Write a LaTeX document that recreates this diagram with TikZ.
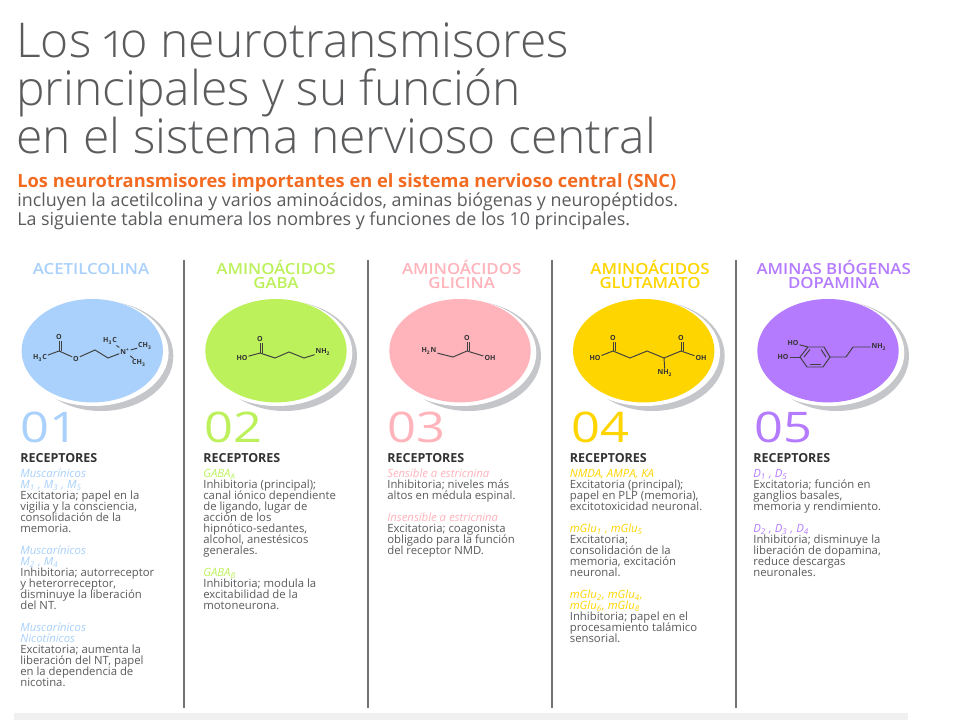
\documentclass[tikz,border=0pt]{standalone}
\usepackage{fontspec}
\setmainfont{Open Sans}
\newfontfamily\lightfont[Numbers=OldStyle]{Open Sans Light}
\newfontfamily\semifont{Open Sans Semibold}
\usepackage{tikz}

\definecolor{acecol}{HTML}{A9D1FB}
\definecolor{gabacol}{HTML}{BDF15B}
\definecolor{glicol}{HTML}{FFB3BB}
\definecolor{glucol}{HTML}{FFD500}
\definecolor{dopacol}{HTML}{B57BFF}
\definecolor{textcol}{HTML}{5A5B5D}
\definecolor{shadecol}{HTML}{C4C6C9}
\definecolor{titlecol}{HTML}{F26B21}

\newcommand{\sbs}[1]{\textsubscript{#1}}

\begin{document}
\begin{tikzpicture}[x=0.02cm,y=-0.02cm,
    heading/.style ={font=\fontsize{8.7}{7.94}\selectfont\semifont\lineskiplimit-20pt, align=center, inner sep=0pt, anchor=base, xscale=1.1},
    bigno/.style ={font=\fontsize{24}{24}\selectfont, inner sep=0pt, anchor=base west, xscale=1.2},
    rec/.style ={font=\fontsize{7.1}{6.24}\selectfont\bfseries, text=black!80, inner sep=0pt, anchor=base west},
    body/.style ={font=\fontsize{6.45}{6.24}\selectfont\lineskiplimit-20pt, text=textcol, align=left, inner sep=0pt, anchor=base west},
    atom/.style ={font=\fontsize{4}{4}\selectfont\bfseries, text=black!80, inner sep=0.4pt},
    bond/.style ={draw=black!75, line width=0.55pt},
    sep/.style ={draw=black!55, line width=1.2pt}]
  \useasboundingbox (0,0) rectangle (960,720);
  \fill[white] (0,0) rectangle (960,720);
  \fill[black!6] (14,713) rectangle (908,720);

  \node[anchor=base west, inner sep=0pt, text=textcol, align=left, font=\fontsize{27.3}{27.2}\selectfont\lightfont\lineskiplimit-20pt] (title) at (16,153)
    {Los 10 neurotransmisores\\principales y su función\\en el sistema nervioso central};
  \node[anchor=base west, inner sep=0pt, text=titlecol, font=\fontsize{10.4}{10.8}\selectfont\bfseries] (lead) at (17,187)
    {Los neurotransmisores importantes en el sistema nervioso central (SNC)};
  \node[anchor=base west, inner sep=0pt, text=textcol, align=left, font=\fontsize{10.17}{10.8}\selectfont\lineskiplimit-20pt] (intro) at (17,225)
    {incluyen la acetilcolina y varios aminoácidos, aminas biógenas y neuropéptidos.\\La siguiente tabla enumera los nombres y funciones de los 10 principales.};

  % column rules
  \foreach \x/\n in {184/a,368/b,552/c,736/d} {
    \coordinate (s\n) at (\x,260);
    \coordinate (e\n) at (\x,708);
    \draw[sep] (s\n) -- (e\n);
  }

  % discs
  \foreach \x/\c/\n in {92.3/acecol/a,276/gabacol/b,460/glicol/c,643.7/glucol/d,828/dopacol/e} {
    \fill[shadecol] (\x+8.7,356) ellipse (72.3 and 55);
    \fill[white] (\x+1,352.7) ellipse (75.3 and 53.3);
    \fill[\c] (\x,350.7) ellipse (70.7 and 51.7);
  }

  % headings
  \node[heading, text=acecol] (h1) at (91,274) {ACETILCOLINA};
  \node[heading, text=gabacol] (h2) at (276,288) {AMINOÁCIDOS\\GABA};
  \node[heading, text=glicol] (h3) at (461.7,288) {AMINOÁCIDOS\\GLICINA};
  \node[heading, text=glucol] (h4) at (650,288) {AMINOÁCIDOS\\GLUTAMATO};
  \node[heading, text=dopacol] (h5) at (833.7,288) {AMINAS BIÓGENAS\\DOPAMINA};

  % numbers
  \node[bigno, text=acecol] (n1) at (20,442) {01};
  \node[bigno, text=gabacol] (n2) at (204,442) {02};
  \node[bigno, text=glicol] (n3) at (387,442) {03};
  \node[bigno, text=glucol] (n4) at (571,442) {04};
  \node[bigno, text=dopacol] (n5) at (754,442) {05};

  % receptor lists
  \node[rec] (r1) at (20,462) {RECEPTORES};
  \node[rec] (r2) at (203,462) {RECEPTORES};
  \node[rec] (r3) at (387,462) {RECEPTORES};
  \node[rec] (r4) at (569.5,462) {RECEPTORES};
  \node[rec] (r5) at (753,462) {RECEPTORES};

  \node[body] (t1) at (20,686) {\textcolor{acecol}{\itshape Muscarínicos}\\
    \textcolor{acecol}{\itshape M\sbs{1} , M\sbs{3} , M\sbs{5}}\\
    Excitatoria; papel en la\\vigilia y la consciencia,\\consolidación de la\\memoria.\\[6.24pt]
    \textcolor{acecol}{\itshape Muscarínicos}\\
    \textcolor{acecol}{\itshape M\sbs{2} , M\sbs{4}}\\
    Inhibitoria; autorreceptor\\y heterorreceptor,\\disminuye la liberación\\del NT.\\[6.24pt]
    \textcolor{acecol}{\itshape Muscarínicos}\\
    \textcolor{acecol}{\itshape Nicotínicos}\\
    Excitatoria; aumenta la\\liberación del NT, papel\\en la dependencia de\\nicotina.};
  \node[body] (t2) at (203,609) {\textcolor{gabacol}{\itshape GABA\sbs{A}}\\
    Inhibitoria (principal);\\canal iónico dependiente\\de ligando, lugar de\\acción de los\\hipnótico-sedantes,\\alcohol, anestésicos\\generales.\\[6.24pt]
    \textcolor{gabacol}{\itshape GABA\sbs{B}}\\
    Inhibitoria; modula la\\excitabilidad de la\\motoneurona.};
  \node[body] (t3) at (387,554) {\textcolor{glicol}{\itshape Sensible a estricnina}\\
    Inhibitoria; niveles más\\altos en médula espinal.\\[6.24pt]
    \textcolor{glicol}{\itshape Insensible a estricnina}\\
    Excitatoria; coagonista\\obligado para la función\\del receptor NMD.};
  \node[body] (t4) at (569.5,642) {\textcolor{glucol}{\itshape NMDA, AMPA, KA}\\
    Excitatoria (principal);\\papel en PLP (memoria),\\excitotoxicidad neuronal.\\[6.24pt]
    \textcolor{glucol}{\itshape mGlu\sbs{1} , mGlu\sbs{5}}\\
    Excitatoria;\\consolidación de la\\memoria, excitación\\neuronal.\\[6.24pt]
    \textcolor{glucol}{\itshape mGlu\sbs{2}, mGlu\sbs{4},}\\
    \textcolor{glucol}{\itshape mGlu\sbs{6}, mGlu\sbs{8}}\\
    Inhibitoria; papel en el\\procesamiento talámico\\sensorial.};
  \node[body] (t5) at (753,576) {\textcolor{dopacol}{\itshape D\sbs{1} , D\sbs{5}}\\
    Excitatoria; función en\\ganglios basales,\\memoria y rendimiento.\\[6.24pt]
    \textcolor{dopacol}{\itshape D\sbs{2} , D\sbs{3} , D\sbs{4}}\\
    Inhibitoria; disminuye la\\liberación de dopamina,\\reduce descargas\\neuronales.};

  % acetilcolina
  \node[atom] (a1) at (40,358) {H\sbs{3}C};
  \node[atom] (a2) at (59,337) {O};
  \node[atom] (a3) at (76,358.5) {O};
  \node[atom] (a4) at (125,351.5) {N\textsuperscript{+}};
  \node[atom] (a5) at (110,341) {H\sbs{3}C};
  \node[atom] (a6) at (145,346) {CH\sbs{3}};
  \node[atom] (a7) at (139,363) {CH\sbs{3}};
  \coordinate (a8) at (59,351);
  \coordinate (a9) at (95,350);
  \coordinate (a10) at (108,358);
  \draw[bond] (a1) -- (a8) -- (a3) -- (a9) -- (a10) -- (a4);
  \draw[bond] (a8) -- (a2);
  \draw[bond] ([xshift=1.2]a8) -- ([xshift=1.2]a2.south);
  \draw[bond] (a4) -- (a5);
  \draw[bond] (a4) -- (a6);
  \draw[bond] (a4) -- (a7);

  % gaba
  \node[atom] (b1) at (242,358) {HO};
  \node[atom] (b2) at (260,339) {O};
  \node[atom] (b3) at (323,352) {NH\sbs{2}};
  \coordinate (b4) at (260,353);
  \coordinate (b5) at (275,358);
  \coordinate (b6) at (289,352);
  \coordinate (b7) at (304,358);
  \draw[bond] (b1) -- (b4) -- (b5) -- (b6) -- (b7) -- (b3);
  \draw[bond] (b4) -- (b2);
  \draw[bond] ([xshift=1.2]b4) -- ([xshift=1.2]b2.south);

  % glicina
  \node[atom] (c1) at (429,351) {H\sbs{2}N};
  \node[atom] (c2) at (467,338) {O};
  \node[atom] (c3) at (490,358) {OH};
  \coordinate (c4) at (453,357);
  \coordinate (c5) at (467,351);
  \draw[bond] (c1) -- (c4) -- (c5) -- (c3);
  \draw[bond] (c5) -- (c2);
  \draw[bond] ([xshift=1.2]c5) -- ([xshift=1.2]c2.south);

  % glutamato
  \node[atom] (d1) at (595,358) {HO};
  \node[atom] (d2) at (613,338) {O};
  \node[atom] (d3) at (681,338) {O};
  \node[atom] (d4) at (701,358) {OH};
  \node[atom] (d5) at (665,373) {NH\sbs{2}};
  \coordinate (d6) at (613,351);
  \coordinate (d7) at (630,358);
  \coordinate (d8) at (647,351);
  \coordinate (d9) at (664,358);
  \coordinate (d10) at (681,351);
  \draw[bond] (d1) -- (d6) -- (d7) -- (d8) -- (d9) -- (d10) -- (d4);
  \draw[bond] (d9) -- (d5);
  \draw[bond] (d6) -- (d2);
  \draw[bond] ([xshift=1.2]d6) -- ([xshift=1.2]d2.south);
  \draw[bond] (d10) -- (d3);
  \draw[bond] ([xshift=1.2]d10) -- ([xshift=1.2]d3.south);

  % dopamina
  \node[atom] (e1) at (793,343) {HO};
  \node[atom] (e2) at (783,357) {HO};
  \node[atom] (e3) at (879,347) {NH\sbs{2}};
  \coordinate (e4) at (808,347);
  \coordinate (e5) at (800,357);
  \coordinate (e6) at (807,367);
  \coordinate (e7) at (823,367);
  \coordinate (e8) at (830,357);
  \coordinate (e9) at (824,347);
  \coordinate (e10) at (846,357);
  \coordinate (e11) at (853,347);
  \coordinate (e12) at (804,357);
  \coordinate (e13) at (810,349.5);
  \coordinate (e14) at (810,364.5);
  \coordinate (e15) at (821,364.5);
  \coordinate (e16) at (826,357);
  \coordinate (e17) at (821,349.5);
  \draw[bond] (e1) -- (e4) -- (e5) -- (e6) -- (e7) -- (e8) -- (e9) -- (e4);
  \draw[bond] (e2) -- (e5);
  \draw[bond] (e8) -- (e10) -- (e11) -- (e3);
  \draw[bond] (e12) -- (e13);
  \draw[bond] (e14) -- (e15);
  \draw[bond] (e16) -- (e17);
\end{tikzpicture}
\end{document}
